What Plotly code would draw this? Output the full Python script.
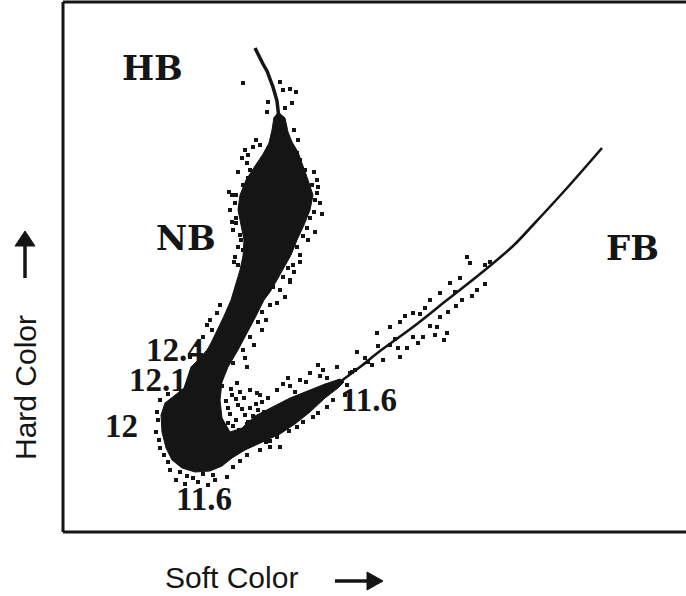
import plotly.graph_objects as go

# ---- data (soft colour = horizontal units, hard colour = vertical units) ----
# dense part of the Z track (outline)
track_soft = [278, 285, 288, 292, 298, 303, 308, 313, 310, 304, 297, 291, 284, 277, 270, 264,
              256, 247, 238, 228, 222, 220, 222, 230, 242, 255, 270, 290, 310, 325, 340,
              344, 338, 325, 310, 295, 280, 262, 245, 232, 222, 210, 195, 182, 172, 166, 162,
              161, 165, 174, 184, 188, 191, 200, 207, 211, 216, 224, 231, 236, 240, 243, 244,
              241, 238, 240, 246, 255, 263, 269, 272, 274]
track_hard = [420, 414, 400, 390, 380, 367, 352, 337, 322, 307, 292, 277, 264, 252, 240, 232,
              216, 199, 182, 165, 150, 132, 114, 100, 104, 116, 124, 134, 142, 148, 153,
              150, 144, 134, 120, 108, 98, 90, 82, 74, 66, 61, 60, 64, 72, 84, 100,
              117, 129, 136, 144, 156, 165, 174, 182, 189, 199, 216, 232, 248, 262, 276, 292,
              307, 322, 337, 352, 366, 378, 389, 402, 415]

# horizontal branch top end (thin line)
hb_soft = [255, 259, 263, 267, 270, 273, 275, 277, 278, 279]
hb_hard = [484, 475, 468, 461, 454, 445, 438, 431, 422, 414]

# flaring branch (thin line)
fb_soft = [318, 340, 360, 380, 413, 447, 480, 513, 533, 567, 602]
fb_hard = [132, 150, 165, 181, 205, 232, 258, 286, 307, 344, 384]

# scattered individual points
dot_soft = [243, 280, 283, 290, 267, 268, 292, 285, 296,
            245, 248, 253, 260, 242, 247, 297, 300, 317, 248, 245, 238, 256, 294, 298, 305, 312,
            230, 235, 238, 235, 243, 314, 317, 320, 314, 310, 307, 303, 297, 236, 233, 240, 238,
            283, 285, 273, 277, 270, 288, 280,
            232, 236, 241, 318, 322, 315, 300, 294, 290, 234, 229, 262, 266, 251, 255,
            236, 232, 240, 243, 250, 241, 244, 315, 308, 300, 293, 290, 262, 254, 245,
            210, 207, 217, 220, 212, 203, 258, 250, 243, 233, 247, 237, 250, 257, 197, 190,
            232, 238, 228, 245, 236, 250, 240, 233, 248, 258, 262, 244,
            226, 230, 236, 242, 253, 247, 239, 231, 256, 264, 228, 222,
            158, 159, 164, 170, 180, 187, 193, 203, 213, 227, 233, 240, 247, 260, 270, 176, 198,
            215, 157, 160, 168, 156, 160, 168, 185, 208,
            288, 277, 290, 300, 310, 323, 337, 327, 303, 313, 327, 333, 297, 277, 270, 280, 260,
            268, 318, 345, 350, 283, 295, 306, 320, 289, 266,
            318, 357, 377, 400, 430, 383, 400, 413, 447, 448, 477, 467, 470, 450, 440, 425, 413,
            405, 390, 485, 472, 462, 456, 440, 437, 444, 435, 423, 418, 407, 398, 365, 372, 355,
            390, 485, 490, 460, 347, 368, 395, 420, 455, 378, 352, 430]
dot_hard = [449, 450, 442, 443, 420, 430, 429, 424, 440,
            382, 377, 385, 387, 374, 369, 379, 372, 352, 354, 345, 360, 392, 402, 392, 362, 347,
            322, 329, 285, 275, 282, 360, 339, 329, 320, 314, 304, 296, 285, 314, 302, 297, 267,
            255, 235, 245, 229, 227, 264, 242,
            337, 309, 292, 345, 318, 300, 270, 260, 250, 270, 340, 220, 212, 248, 238,
            337, 310, 325, 347, 362, 292, 270, 332, 292, 277, 267, 252, 202, 187, 174,
            212, 207, 219, 227, 202, 195, 210, 195, 182, 169, 165, 149, 142, 139, 187, 175,
            137, 127, 124, 117, 112, 124, 140, 106, 110, 122, 130, 134,
            131, 118, 133, 123, 116, 108, 102, 143, 128, 120, 109, 146,
            112, 92, 77, 62, 60, 56, 54, 58, 57, 55, 65, 71, 77, 82, 85, 52, 50,
            52, 120, 132, 138, 100, 84, 70, 48, 47,
            154, 142, 146, 152, 159, 162, 165, 154, 110, 115, 125, 132, 105, 95, 91, 85, 137,
            134, 119, 137, 159, 148, 140, 150, 156, 101, 90,
            167, 180, 199, 210, 232, 172, 175, 195, 199, 220, 242, 275, 269, 249, 239, 224, 219,
            216, 205, 248, 236, 232, 226, 215, 205, 192, 197, 195, 189, 184, 184, 174, 167, 162,
            187, 267, 270, 254, 147, 170, 193, 218, 240, 186, 160, 206]

# text labels on the track
label_text = ["HB", "NB", "FB", "12.4", "12.1", "12", "11.6", "11.6"]
label_soft = [152, 186, 632, 175, 158, 121, 204, 369]
label_hard = [464, 294, 284, 182, 152, 106, 33, 132]

INK = "#151515"

fig = go.Figure()
fig.add_trace(go.Scatter(x=track_soft, y=track_hard, mode="lines", fill="toself",
                         fillcolor=INK, line=dict(color=INK, width=1), hoverinfo="skip"))
fig.add_trace(go.Scatter(x=hb_soft, y=hb_hard, mode="lines",
                         line=dict(color=INK, width=3.5), hoverinfo="skip"))
fig.add_trace(go.Scatter(x=fb_soft, y=fb_hard, mode="lines",
                         line=dict(color=INK, width=2.6, shape="spline"), hoverinfo="skip"))
fig.add_trace(go.Scatter(x=dot_soft, y=dot_hard, mode="markers",
                         marker=dict(symbol="square", size=4, color=INK, line=dict(width=0)),
                         hoverinfo="skip"))

for t, xs, ys in zip(label_text, label_soft, label_hard):
    is_word = t.isalpha()
    fig.add_annotation(x=xs, y=ys, xref="x", yref="y", text="<b>" + t + "</b>",
                       showarrow=False, xanchor="center", yanchor="middle",
                       font=dict(family="DejaVu Serif" if is_word else "Liberation Serif",
                                 size=34 if is_word else 33, color=INK))

# geometry helpers for the decorations (page pixels -> paper fractions)
L, T, W, H = 63, 2, 623, 530
def px(x):
    return (x - L) / W
def py(y):
    return (T + H - y) / H

shapes = []
# frame: left, top, bottom
for x0, y0, x1, y1 in [(63, 2, 63, 532), (63, 2, 686, 2), (63, 532, 686, 532)]:
    shapes.append(dict(type="line", xref="paper", yref="paper",
                       x0=px(x0), y0=py(y0), x1=px(x1), y1=py(y1),
                       line=dict(color=INK, width=3)))
# right arrow next to "Soft Color"
shapes.append(dict(type="line", xref="paper", yref="paper",
                   x0=px(335), y0=py(581), x1=px(370), y1=py(581),
                   line=dict(color=INK, width=3.5)))
shapes.append(dict(type="path", xref="paper", yref="paper",
                   path=f"M {px(383)} {py(581)} L {px(367)} {py(572)} L {px(367)} {py(590)} Z",
                   fillcolor=INK, line=dict(color=INK, width=1)))
# up arrow above "Hard Color"
shapes.append(dict(type="line", xref="paper", yref="paper",
                   x0=px(25), y0=py(278), x1=px(25), y1=py(244),
                   line=dict(color=INK, width=3.5)))
shapes.append(dict(type="path", xref="paper", yref="paper",
                   path=f"M {px(25)} {py(231)} L {px(15)} {py(246)} L {px(35)} {py(246)} Z",
                   fillcolor=INK, line=dict(color=INK, width=1)))

fig.add_annotation(xref="paper", yref="paper", x=px(231), y=py(577), text="Soft Color",
                   showarrow=False, xanchor="center", yanchor="middle",
                   font=dict(family="Liberation Sans", size=30, color=INK))
fig.add_annotation(xref="paper", yref="paper", x=px(25), y=py(388), text="Hard Color",
                   showarrow=False, xanchor="center", yanchor="middle", textangle=-90,
                   font=dict(family="Liberation Sans", size=30, color=INK))

fig.update_layout(
    width=686, height=596,
    margin=dict(l=63, r=0, t=2, b=64),
    paper_bgcolor="white", plot_bgcolor="white",
    showlegend=False, shapes=shapes,
    xaxis=dict(range=[63, 686], visible=False, fixedrange=True),
    yaxis=dict(range=[0, 530], visible=False, fixedrange=True),
)

fig.write_html("out.html", config={"displayModeBar": False},
               post_script="document.body.style.margin='0px';")
